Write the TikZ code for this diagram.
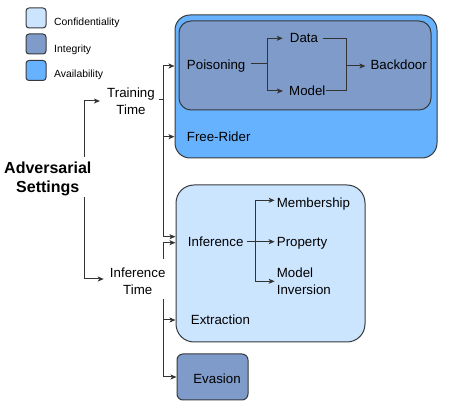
\documentclass[tikz,border=0pt]{standalone}
\usepackage{fontspec}
\setmainfont{Liberation Sans}
\usetikzlibrary{arrows.meta}
\definecolor{bord}{HTML}{36393D}
\definecolor{cconf}{HTML}{CCE5FF}
\definecolor{cinteg}{HTML}{7F9BC9}
\definecolor{cavail}{HTML}{66B2FF}
\definecolor{wirecol}{HTML}{333333}
\begin{document}
\begin{tikzpicture}[x=1pt,y=-1pt,
  box/.style={draw=bord, line width=1pt, rectangle, inner sep=0pt},
  txt/.style={font=\fontsize{13.3}{16.6}\selectfont, inner sep=0pt, align=center},
  leg/.style={font=\fontsize{10.4}{12}\selectfont, anchor=base west, inner sep=0pt},
  wire/.style={draw=wirecol, line width=1pt},
  arr/.style={draw=wirecol, line width=1pt, -{Stealth[length=6pt,width=5pt,inset=1.5pt]}}]
\useasboundingbox (0,0) rectangle (453,411);

% legend
\node[box, fill=cconf, rounded corners=3pt, minimum size=20pt] (lc) at (36,18) {};
\node[box, fill=cinteg, rounded corners=3pt, minimum size=20pt] (li) at (36,44) {};
\node[box, fill=cavail, rounded corners=3pt, minimum size=20pt] (la) at (36,70.5) {};
\node[leg] (lct) at (54,26) {Confidentiality};
\node[leg] (lit) at (54,52.3) {Integrity};
\node[leg] (lat) at (54,78) {Availability};

% boxes
\node[box, fill=cavail, rounded corners=15pt, minimum width=262pt, minimum height=143pt] (avail) at (306,86.5) {};
\node[box, fill=cinteg, rounded corners=12pt, minimum width=252pt, minimum height=89pt] (integ) at (305,65.5) {};
\node[box, fill=cconf, rounded corners=18pt, minimum width=189pt, minimum height=157pt] (conf) at (270.5,263.5) {};
\node[box, fill=cinteg, rounded corners=6pt, minimum width=71pt, minimum height=46pt] (ev) at (212.5,377) {};

% texts
\node[txt, font=\fontsize{16}{19}\selectfont\bfseries] (adv) at (47.8,178.7) {Adversarial\\Settings};
\node[txt] (train) at (131,101) {Training\\Time};
\node[txt] (inft) at (137.7,281) {Inference\\Time};
\node[txt] (pois) at (216.2,66) {Poisoning};
\node[txt] (data) at (304,38.3) {Data};
\node[txt] (model) at (307.3,91) {Model};
\node[txt] (back) at (398.7,65) {Backdoor};
\node[txt, anchor=west] (free) at (186.7,136.7) {Free-Rider};
\node[txt] (inf) at (215.7,241.7) {Inference};
\node[txt, anchor=west] (memb) at (276.7,204.3) {Membership};
\node[txt, anchor=west] (prop) at (276.7,243.3) {Property};
\node[txt, anchor=west, align=left] (minv) at (276.7,281.3) {Model\\Inversion};
\node[txt, anchor=west] (extr) at (190.7,320) {Extraction};
\node[txt] (evas) at (217,379) {Evasion};

% junction coordinates
\coordinate (advT) at (84,157);
\coordinate (advB) at (84,197);
\coordinate (tj) at (163,100);
\coordinate (ij1) at (163,259);
\coordinate (ij2) at (163,299);
\coordinate (pj) at (267,64);
\coordinate (bj) at (346,66);
\coordinate (ij) at (255,241.7);

% outer connectors
\draw[arr, shorten >=7pt] (advT) |- (train.west);
\draw[arr, shorten >=6pt] (advB) |- ([yshift=2pt]inft.west);
\draw[wire, shorten <=4pt] (train.east |- tj) -- (tj);
\draw[arr] (tj) |- (pois.west -| avail.west);
\draw[arr] (tj) |- (free.west -| avail.west);
\draw[arr] (tj) |- ([yshift=5pt]inf.west -| conf.west);
\draw[arr] (ij1) |- ([yshift=-1pt]inf.west -| conf.west);
\draw[arr] (ij2) |- (extr.west -| conf.west);
\draw[arr] (ij2) |- (ev.west);

% poisoning connectors
\draw[wire, shorten <=5pt] (pois.east |- pj) -- (pj);
\draw[arr, shorten >=7pt] (pj) |- (data.west);
\draw[arr, shorten >=6pt] (pj) |- (model.west);
\draw[wire, shorten <=5pt] (data.east) -| (bj);
\draw[wire] (model.east) -| (bj);
\draw[arr, shorten >=5pt] (bj) -- (bj -| back.west);

% inference connectors
\draw[wire, shorten <=3pt] (inf.east |- ij) -- (ij);
\draw[arr, shorten >=2pt] (ij) |- ([yshift=4pt]memb.west);
\draw[arr, shorten >=2pt] (ij) -- (ij -| prop.west);
\draw[arr, shorten >=2pt] (ij) |- (minv.west);
\end{tikzpicture}
\end{document}
